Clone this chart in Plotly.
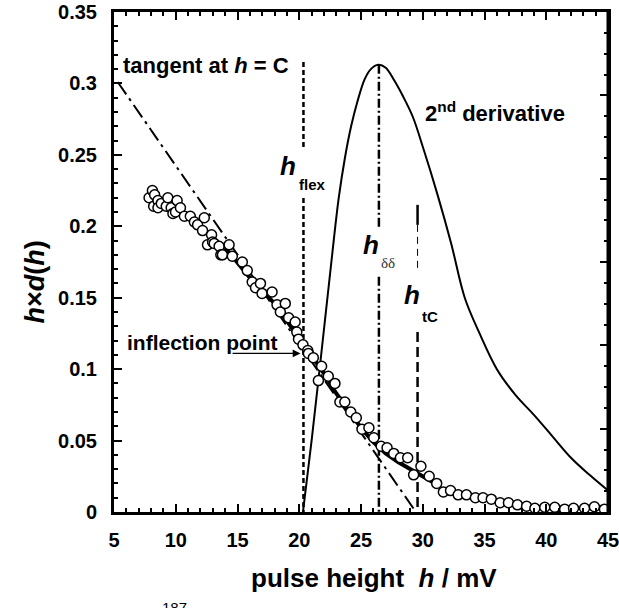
import plotly.graph_objects as go

FONT = "Liberation Sans, Arial, sans-serif"

# measured h*d(h) points (pulse height in mV)
data_h = [7.84, 8.11, 8.21, 8.29, 8.56, 8.56, 8.83, 9.23, 9.36, 9.63, 9.77, 9.98, 10.11, 10.38,
          10.70, 11.18, 11.51, 11.77, 12.17, 12.31, 12.57, 12.90, 12.98, 13.11, 13.51, 13.65,
          13.78, 14.32, 14.58, 15.39, 15.79, 16.19, 16.46, 16.86, 16.99, 17.80, 18.20, 18.47,
          18.87, 19.14, 19.67, 19.80, 19.94, 20.30, 20.69, 20.74, 21.14, 21.55, 21.81, 22.35,
          22.89, 23.29, 23.69, 24.17, 24.62, 25.08, 25.64, 26.04, 26.63, 27.11, 27.65, 28.19,
          28.78, 29.26, 29.85, 30.52, 31.13, 31.67, 32.25, 32.87, 33.54, 34.26, 34.88, 35.55,
          36.27, 36.94, 37.67, 38.41, 39.08, 39.88, 40.69, 41.49, 42.21, 43.10, 43.90, 44.71]
data_y = [0.220, 0.225, 0.214, 0.222, 0.218, 0.213, 0.216, 0.214, 0.220, 0.213, 0.209, 0.210,
          0.218, 0.213, 0.207, 0.207, 0.203, 0.201, 0.197, 0.206, 0.187, 0.194, 0.189, 0.188,
          0.186, 0.180, 0.180, 0.187, 0.179, 0.175, 0.169, 0.161, 0.157, 0.160, 0.153, 0.154,
          0.145, 0.140, 0.146, 0.136, 0.133, 0.126, 0.121, 0.117, 0.113, 0.111, 0.108, 0.092,
          0.102, 0.095, 0.090, 0.077, 0.077, 0.070, 0.066, 0.058, 0.059, 0.052, 0.046, 0.045,
          0.041, 0.038, 0.038, 0.026, 0.032, 0.025, 0.020, 0.014, 0.015, 0.012, 0.012, 0.010,
          0.010, 0.009, 0.0065, 0.0065, 0.005, 0.004, 0.0026, 0.0033, 0.0033, 0.002, 0.0026,
          0.0026, 0.0037, 0.002]

# smooth fit through the data
fit_h = [14.0, 16.0, 18.0, 20.0, 21.0, 22.0, 23.0, 24.0, 25.0, 26.0, 27.0, 28.0, 29.0, 30.0, 31.0]
fit_y = [0.185, 0.164, 0.146, 0.121, 0.109, 0.097, 0.083, 0.071, 0.059, 0.049, 0.041, 0.035,
         0.030, 0.025, 0.020]

# second derivative curve
d2_h = [20.3, 21.0, 21.8, 22.6, 23.2, 23.7, 24.2, 24.7, 25.3, 25.8, 26.4, 27.0, 27.7, 28.4,
        29.2, 30.1, 31.2, 32.3, 33.4, 34.6, 36.0, 37.5, 39.0, 40.5, 42.0, 43.5, 45.0]
d2_y = [0.0, 0.050, 0.112, 0.175, 0.220, 0.248, 0.270, 0.287, 0.303, 0.310, 0.313, 0.311,
        0.302, 0.291, 0.2765, 0.253, 0.222, 0.188, 0.150, 0.125, 0.100, 0.082, 0.068, 0.053,
        0.038, 0.026, 0.015]

# tangent at h = C
tan_h = [5.3, 29.45]
tan_y = [0.301, 0.0]

# characteristic pulse heights
H_FLEX = 20.34
H_DD = 26.45
H_TC = 29.58

flex_upper = [0.315, 0.2548]
flex_lower = [0.2198, 0.0]
dd_upper = [0.313, 0.1997]
dd_lower = [0.1647, 0.0]
tc_top = [0.2150, 0.2010]
tc_upper = [0.2010, 0.1680]
tc_lower = [0.1260, 0.0]

x_ticks = [5, 10, 15, 20, 25, 30, 35, 40, 45]
y_ticks = [0, 0.05, 0.1, 0.15, 0.2, 0.25, 0.3, 0.35]
y_tick_text = ["0", "0.05", "0.1", "0.15", "0.2", "0.25", "0.3", "0.35"]

# right-hand frame scale (unlabelled): 6 major divisions, 4 minor each
right_major = [0, 1, 2, 3, 4, 5, 6]

fig = go.Figure()


def vline(xv, ys, dash, width):
    fig.add_trace(go.Scatter(x=[xv, xv], y=ys, mode="lines",
                             line=dict(color="black", width=width, dash=dash),
                             hoverinfo="skip", showlegend=False))


fig.add_trace(go.Scatter(x=tan_h, y=tan_y, mode="lines",
                         line=dict(color="black", width=2, dash="15px,5px,3px,5px"),
                         showlegend=False))
fig.add_trace(go.Scatter(x=d2_h, y=d2_y, mode="lines", line_shape="spline",
                         line=dict(color="black", width=2), showlegend=False))

vline(H_FLEX, flex_upper, "5px,3px", 2.5)
vline(H_FLEX, flex_lower, "5px,3px", 2.5)
vline(H_DD, dd_upper, "9px,3px,2px,3px", 2.5)
vline(H_DD, dd_lower, "9px,3px,2px,3px", 2.5)
vline(H_TC, tc_top, "solid", 2.5)
vline(H_TC, tc_upper, "7px,5px", 1)
vline(H_TC, tc_lower, "10px,5px", 2.5)

fig.add_trace(go.Scatter(x=fit_h, y=fit_y, mode="lines",
                         line=dict(color="black", width=4), showlegend=False))
fig.add_trace(go.Scatter(x=data_h, y=data_y, mode="markers",
                         marker=dict(symbol="circle", size=10, color="white",
                                     line=dict(color="black", width=1.5)),
                         showlegend=False, cliponaxis=False))

# helper traces so the top and right tick axes get drawn
fig.add_trace(go.Scatter(x=[25], y=[0.1], xaxis="x2", yaxis="y", mode="markers",
                         marker=dict(size=1, color="rgba(0,0,0,0)"), showlegend=False,
                         hoverinfo="skip"))
fig.add_trace(go.Scatter(x=[25], y=[3], xaxis="x", yaxis="y2", mode="markers",
                         marker=dict(size=1, color="rgba(0,0,0,0)"), showlegend=False,
                         hoverinfo="skip"))

tick_font = dict(family=FONT, size=20, color="black", weight="bold")
axis_common = dict(showline=True, linewidth=3, linecolor="black", showgrid=False,
                   zeroline=False, ticks="inside", tickwidth=2, tickcolor="black", ticklen=8)

fig.update_layout(
    width=619, height=608,
    margin=dict(l=114, r=11, t=12, b=96, autoexpand=False),
    plot_bgcolor="white", paper_bgcolor="white",
    xaxis=dict(range=[5, 45], tickvals=x_ticks, tickfont=tick_font, ticklabelstandoff=8,
               ticklabeloverflow="allow",
               minor=dict(dtick=1, tick0=5, ticks="inside", ticklen=4, tickwidth=1.5,
                          tickcolor="black"),
               **axis_common),
    yaxis=dict(range=[0, 0.35], tickvals=y_ticks, ticktext=y_tick_text, tickfont=tick_font,
               ticklabelstandoff=10, ticklabeloverflow="allow",
               minor=dict(dtick=0.01, tick0=0, ticks="inside", ticklen=4, tickwidth=1.5,
                          tickcolor="black"),
               **axis_common),
    xaxis2=dict(range=[5, 45], overlaying="x", anchor="y", side="top", dtick=5, tick0=5,
                showticklabels=False,
                minor=dict(dtick=1, tick0=5, ticks="inside", ticklen=4, tickwidth=1.5,
                           tickcolor="black"),
                **axis_common),
    yaxis2=dict(range=[0, 6], overlaying="y", anchor="x", side="right",
                tickvals=right_major, showticklabels=False,
                minor=dict(dtick=0.25, tick0=0, ticks="inside", ticklen=4, tickwidth=1.5,
                           tickcolor="black"),
                **axis_common),
)

# right edge of the frame
fig.add_shape(type="line", xref="paper", yref="paper", x0=1, x1=1, y0=0, y1=1,
              line=dict(color="black", width=3), layer="above")


def label(x, y, text, size, xanchor="center", family=FONT, color="black", **kw):
    fig.add_annotation(x=x, y=y, xref="x", yref="y", text=text, showarrow=False,
                       xanchor=xanchor, yanchor="middle",
                       font=dict(family=family, size=size, color=color), **kw)


label(5.56, 0.3129, "<b>tangent at <i>h</i> = C</b>", 22, xanchor="left")
label(29.98, 0.2800, "<b>2<sup>nd</sup> derivative</b>", 22, xanchor="left")
label(19.06, 0.2422, "<b><i>h</i></b>", 26)
label(19.78, 0.2296, "<b>flex</b>", 15, xanchor="left")
label(25.80, 0.1869, "<b><i>h</i></b>", 26)
label(27.17, 0.1743, "δδ", 15, family="Liberation Serif, Times New Roman, serif",
      color="#333333")
label(29.10, 0.1519, "<b><i>h</i></b>", 26)
label(29.75, 0.1372, "<b>tC</b>", 15, xanchor="left")
label(5.88, 0.1190, "<b>inflection point</b>", 21, xanchor="left")

fig.add_annotation(x=20.1, y=0.111, ax=14.48, ay=0.111, xref="x", yref="y",
                   axref="x", ayref="y", text="", showarrow=True,
                   arrowhead=2, arrowsize=1.2, arrowwidth=1.3, arrowcolor="black")

# axis titles
fig.add_annotation(x=-0.159, y=0.46, xref="paper", yref="paper", textangle=-90,
                   xanchor="center", yanchor="middle",
                   text="<b><i>h</i>×<i>d</i>(<i>h</i>)</b>", showarrow=False,
                   font=dict(family=FONT, size=27, color="black"))
fig.add_annotation(x=0.526, y=-0.132, xref="paper", yref="paper",
                   xanchor="center", yanchor="middle",
                   text="<b>pulse height &nbsp;<i>h</i> / mV</b>", showarrow=False,
                   font=dict(family=FONT, size=26, color="black"))
fig.add_annotation(x=0.122, y=-0.17, xref="paper", yref="paper",
                   xanchor="center", yanchor="top",
                   text="187", showarrow=False,
                   font=dict(family=FONT, size=15, color="black"))

fig.write_html("out.html")
